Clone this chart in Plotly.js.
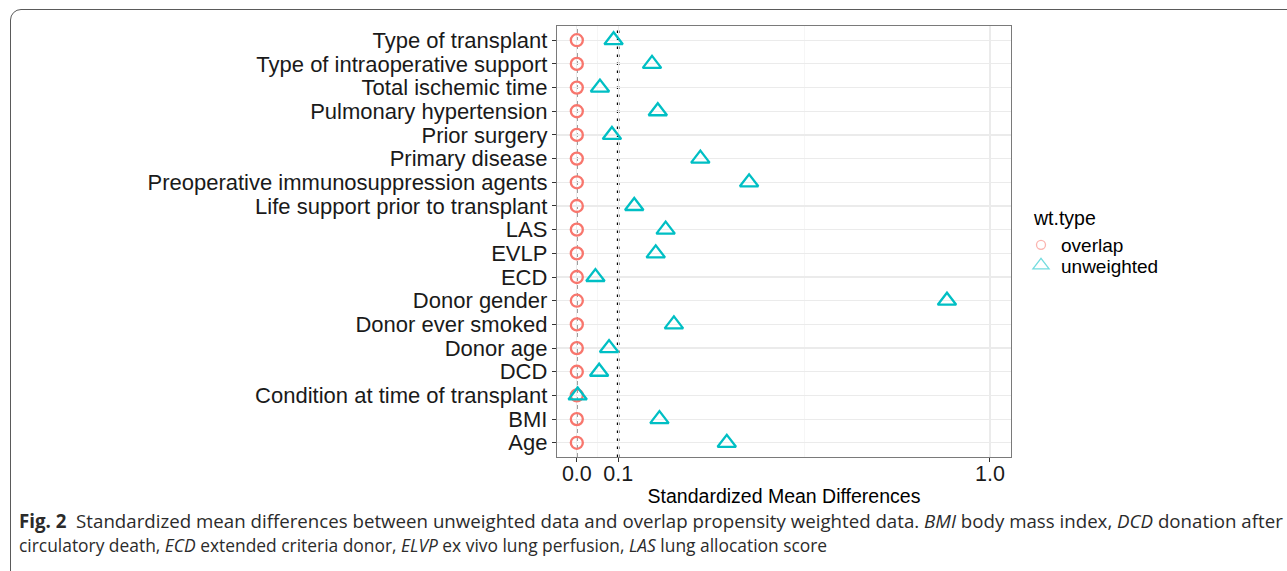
<!DOCTYPE html>
<html>
<head>
<meta charset="utf-8">
<script src="https://cdn.plot.ly/plotly-3.0.1.min.js"></script>
<style>
  html, body { margin: 0; padding: 0; background: #ffffff; }
  #wrap { position: relative; width: 1287px; height: 571px; overflow: hidden; background: #ffffff; }
  #frame { position: absolute; left: 10px; top: 9px; width: 1320px; height: 575px;
           border: 1.6px solid #5a5a5a; border-radius: 11px; box-sizing: border-box; }
  #chart { position: absolute; left: 0; top: 0; width: 1287px; height: 571px; }
</style>
</head>
<body>
<div id="wrap">
  <div id="frame"></div>
  <div id="chart"></div>
</div>
<script>
// ---- data ----
const covariates = [
  "Type of transplant",
  "Type of intraoperative support",
  "Total ischemic time",
  "Pulmonary hypertension",
  "Prior surgery",
  "Primary disease",
  "Preoperative immunosuppression agents",
  "Life support prior to transplant",
  "LAS",
  "EVLP",
  "ECD",
  "Donor gender",
  "Donor ever smoked",
  "Donor age",
  "DCD",
  "Condition at time of transplant",
  "BMI",
  "Age"
];
const smdOverlap = [0, 0, 0, 0, 0, 0, 0, 0, 0, 0, 0, 0, 0, 0, 0, 0, 0, 0];
const smdUnweighted = [0.089, 0.182, 0.056, 0.196, 0.085, 0.299, 0.417, 0.139, 0.215, 0.191,
                       0.045, 0.896, 0.235, 0.078, 0.054, 0.002, 0.200, 0.363];
const seriesNames = ["overlap", "unweighted"];
const legendTitle = "wt.type";
const xTickVals = [0, 0.1, 1.0];
const xTickText = ["0.0", "0.1", "1.0"];
const xMinorVals = [0.05, 0.55];
const zeroLine = 0;
const thresholdLine = 0.1;

const RED = "#F8766D", CYAN = "#00BFC4";
const FONT = "Liberation Sans, Arial, sans-serif";
const CAPFONT = "Open Sans, Noto Sans, sans-serif";

const traces = [
  { type: "scatter", mode: "markers", x: smdOverlap, y: covariates, name: seriesNames[0],
    showlegend: false, hoverinfo: "x+y",
    marker: { symbol: "circle-open", size: 12, color: RED, line: { width: 2.3, color: RED } } },
  { type: "scatter", mode: "markers", x: smdUnweighted, y: covariates, name: seriesNames[1],
    showlegend: false, hoverinfo: "x+y",
    marker: { symbol: "triangle-up-open", size: 16, color: CYAN, line: { width: 2.3, color: CYAN } } },
  // legend keys (faded, as in the reference)
  { type: "scatter", mode: "markers", x: [null], y: [null], name: seriesNames[0], showlegend: true, legend: "legend",
    marker: { symbol: "circle-open", size: 9, color: "rgba(248,118,109,0.55)", line: { width: 1.3, color: "rgba(248,118,109,0.55)" } } },
  { type: "scatter", mode: "markers", x: [null], y: [null], name: seriesNames[1], showlegend: true, legend: "legend2",
    marker: { symbol: "triangle-up-open", size: 14, color: "rgba(0,191,196,0.55)", line: { width: 1.3, color: "rgba(0,191,196,0.55)" } } }
];

const n = covariates.length;
const L = 557, R = 1011, T = 26, B = 457, W = 1287, H = 571;
const pw = R - L, ph = B - T;
const px = v => (v - L) / pw;
const py = v => (B - v) / ph;

const legendBase = {
  xanchor: "left", yanchor: "top",
  font: { size: 19, family: FONT, color: "#000" },
  bgcolor: "rgba(0,0,0,0)", borderwidth: 0, tracegroupgap: 0, itemsizing: "trace"
};

const layout = {
  width: W, height: H,
  paper_bgcolor: "rgba(0,0,0,0)",
  plot_bgcolor: "#ffffff",
  margin: { l: L, r: W - R, t: T, b: H - B, pad: 0 },
  font: { family: FONT, color: "#000000" },
  xaxis: {
    range: [-0.048, 1.051], autorange: false,
    tickmode: "array", tickvals: xTickVals, ticktext: xTickText,
    tickfont: { size: 21.5, color: "#1a1a1a", family: FONT },
    ticks: "outside", ticklen: 4, tickcolor: "#333333", tickwidth: 1,
    ticklabelstandoff: -7,
    showgrid: true, gridcolor: "#EBEBEB", gridwidth: 1.2,
    minor: { tickmode: "array", tickvals: xMinorVals, showgrid: true, gridcolor: "#F4F4F4", gridwidth: 0.8, ticks: "" },
    zeroline: false,
    showline: true, mirror: true, linecolor: "#7a7a7a", linewidth: 1.2,
    title: { text: "Standardized Mean Differences", font: { size: 19.5, family: FONT, color: "#000" }, standoff: 4 },
    automargin: false, fixedrange: true
  },
  yaxis: {
    type: "category", categoryorder: "array", categoryarray: covariates,
    tickmode: "array", tickvals: covariates, ticktext: covariates,
    range: [n - 0.4, -0.6], autorange: false,
    tickfont: { size: 22, color: "#1a1a1a", family: FONT },
    ticks: "outside", ticklen: 4, tickcolor: "#333333", tickwidth: 1,
    showgrid: true, gridcolor: "#EBEBEB", gridwidth: 1.2,
    zeroline: false,
    showline: true, mirror: true, linecolor: "#7a7a7a", linewidth: 1.2,
    automargin: false, fixedrange: true
  },
  shapes: [
    { type: "line", xref: "x", yref: "y domain", x0: zeroLine, x1: zeroLine, y0: 0, y1: 1, layer: "below",
      line: { color: "#000000", width: 1.1, dash: "4px,4px" } },
    { type: "line", xref: "x", yref: "y domain", x0: thresholdLine, x1: thresholdLine, y0: 0, y1: 1, layer: "below",
      line: { color: "#000000", width: 2.6, dash: "2.6px,5.4px" } }
  ],
  legend: Object.assign({}, legendBase, { x: px(1021), y: py(226) }),
  legend2: Object.assign({}, legendBase, { x: px(1021), y: py(246.5) }),
  annotations: [
    { xref: "paper", yref: "paper", x: px(1031), y: py(218), xanchor: "left", yanchor: "middle", showarrow: false,
      font: { size: 19.5, family: FONT, color: "#000" }, text: legendTitle },
    { xref: "paper", yref: "paper", x: px(17), y: py(520), xanchor: "left", yanchor: "middle", showarrow: false,
      align: "left",
      font: { family: CAPFONT, size: 18.7, color: "#2b2b2b" },
      text: "<b>Fig. 2</b>  Standardized mean differences between unweighted data and overlap propensity weighted data. <i>BMI</i> body mass index, <i>DCD</i> donation after" },
    { xref: "paper", yref: "paper", x: px(17), y: py(545), xanchor: "left", yanchor: "middle", showarrow: false,
      align: "left",
      font: { family: CAPFONT, size: 17.4, color: "#2b2b2b" },
      text: "circulatory death, <i>ECD</i> extended criteria donor, <i>ELVP</i> ex vivo lung perfusion, <i>LAS</i> lung allocation score" }
  ],
  hovermode: "closest"
};

Plotly.newPlot("chart", traces, layout, { displayModeBar: false, staticPlot: true });
</script>
</body>
</html>
